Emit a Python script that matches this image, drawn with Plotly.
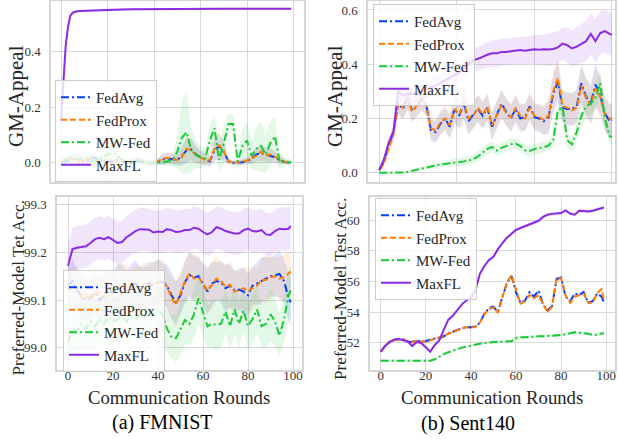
import plotly.graph_objects as go

W, H = 619, 444
FONT = "Liberation Serif"

ROUNDS = list(range(0, 100, 2)) + [99]

# ---------------- (a) FMNIST : GM-Appeal ----------------
TL_FEDAVG = [0.0, 0.005, 0.01, 0.015, 0.01, 0.005, 0.01, 0.02, 0.01, 0.005,
             0.0, 0.005, 0.01, 0.005, 0.0, 0.005, 0.01, 0.005, 0.0, 0.0,
             0.0, 0.005, 0.012, 0.015, 0.012, 0.01, 0.025, 0.045, 0.048, 0.03,
             0.02, 0.012, 0.005, 0.045, 0.06, 0.04, 0.005, 0.0, 0.0, 0.002,
             0.005, 0.015, 0.03, 0.035, 0.03, 0.025, 0.02, 0.01, 0.003, 0.0,
             0.0]
TL_FEDPROX = [0.0, 0.01, 0.015, 0.01, 0.005, 0.01, 0.015, 0.01, 0.005, 0.01,
              0.005, 0.0, 0.005, 0.01, 0.005, 0.0, 0.005, 0.01, 0.005, 0.0,
              0.0, 0.008, 0.015, 0.018, 0.015, 0.01, 0.02, 0.05, 0.045, 0.028,
              0.018, 0.01, 0.008, 0.05, 0.063, 0.042, 0.005, 0.0, 0.002, 0.003,
              0.008, 0.018, 0.025, 0.04, 0.025, 0.03, 0.022, 0.012, 0.004, 0.001,
              0.0]
TL_MWFED = [0.0, 0.01, 0.02, 0.015, 0.01, 0.02, 0.01, 0.005, 0.01, 0.02,
            0.03, 0.035, 0.03, 0.01, 0.005, 0.0, 0.005, 0.01, 0.005, 0.0,
            0.0, 0.0, 0.002, 0.005, 0.01, 0.04, 0.09, 0.11, 0.045, 0.03,
            0.02, 0.015, 0.08, 0.125, 0.01, 0.07, 0.14, 0.14, 0.005, 0.06,
            0.08, 0.025, 0.05, 0.06, 0.03, 0.07, 0.095, 0.005, 0.004, 0.003,
            0.002]
TL_MAXFL_ROUNDS = [0, 1, 2, 3, 4, 5, 6, 8, 10, 14, 20, 30, 40, 50, 60, 70, 80, 90, 99]
TL_MAXFL = [0.15, 0.30, 0.42, 0.49, 0.53, 0.54, 0.544, 0.547, 0.548, 0.549,
            0.551, 0.553, 0.554, 0.554, 0.555, 0.555, 0.555, 0.555, 0.555]

TL_FEDAVG_SD = [0.01, 0.015, 0.02, 0.02, 0.015, 0.01, 0.015, 0.02, 0.02, 0.015,
                0.01, 0.01, 0.015, 0.01, 0.01, 0.01, 0.015, 0.01, 0.01, 0.01,
                0.01, 0.012, 0.02, 0.02, 0.02, 0.02, 0.035, 0.045, 0.04, 0.03,
                0.025, 0.02, 0.02, 0.04, 0.045, 0.035, 0.01, 0.008, 0.008, 0.01,
                0.012, 0.02, 0.025, 0.03, 0.025, 0.025, 0.02, 0.015, 0.01, 0.005,
                0.005]
TL_FEDPROX_SD = [0.012, 0.015, 0.018, 0.02, 0.015, 0.012, 0.015, 0.018, 0.015, 0.015,
                 0.012, 0.01, 0.012, 0.012, 0.01, 0.01, 0.012, 0.012, 0.01, 0.01,
                 0.01, 0.012, 0.02, 0.022, 0.02, 0.02, 0.03, 0.045, 0.04, 0.03,
                 0.025, 0.02, 0.02, 0.04, 0.045, 0.035, 0.01, 0.008, 0.008, 0.01,
                 0.012, 0.02, 0.025, 0.03, 0.025, 0.025, 0.02, 0.015, 0.01, 0.005,
                 0.005]
TL_MWFED_SD = [0.02, 0.025, 0.03, 0.03, 0.025, 0.03, 0.025, 0.02, 0.025, 0.03,
               0.035, 0.04, 0.035, 0.025, 0.02, 0.015, 0.015, 0.02, 0.015, 0.01,
               0.01, 0.01, 0.012, 0.015, 0.02, 0.06, 0.13, 0.15, 0.08, 0.05,
               0.04, 0.03, 0.05, 0.05, 0.04, 0.07, 0.035, 0.035, 0.03, 0.06,
               0.07, 0.05, 0.08, 0.09, 0.07, 0.08, 0.07, 0.03, 0.015, 0.01,
               0.01]
TL_MAXFL_SD = [0.03, 0.03, 0.02, 0.012, 0.008, 0.006, 0.005, 0.004, 0.004, 0.004,
               0.004, 0.004, 0.004, 0.004, 0.004, 0.004, 0.004, 0.004, 0.004]

# ---------------- (b) Sent140 : GM-Appeal ----------------
TR_FEDAVG = [0.01, 0.04, 0.10, 0.15, 0.26, 0.235, 0.275, 0.23, 0.245, 0.27,
             0.25, 0.157, 0.15, 0.18, 0.2, 0.17, 0.235, 0.21, 0.255, 0.19,
             0.215, 0.235, 0.21, 0.24, 0.17, 0.21, 0.255, 0.225, 0.2, 0.235,
             0.2, 0.205, 0.245, 0.205, 0.2, 0.19, 0.205, 0.29, 0.335, 0.24,
             0.235, 0.235, 0.245, 0.33, 0.28, 0.255, 0.325, 0.285, 0.22, 0.19,
             0.195]
TR_FEDPROX = [0.01, 0.035, 0.09, 0.14, 0.25, 0.24, 0.27, 0.225, 0.25, 0.275,
              0.245, 0.165, 0.155, 0.185, 0.2, 0.175, 0.235, 0.215, 0.26, 0.2,
              0.21, 0.24, 0.215, 0.245, 0.175, 0.215, 0.25, 0.22, 0.205, 0.24,
              0.21, 0.2, 0.24, 0.21, 0.205, 0.195, 0.21, 0.3, 0.35, 0.245,
              0.24, 0.23, 0.24, 0.32, 0.275, 0.25, 0.31, 0.28, 0.215, 0.2,
              0.2]
TR_MWFED = [0.0, 0.0, 0.0, 0.0, 0.0, 0.001, 0.003, 0.007, 0.012, 0.017,
            0.021, 0.024, 0.027, 0.03, 0.032, 0.034, 0.036, 0.039, 0.042, 0.045,
            0.05, 0.06, 0.075, 0.088, 0.095, 0.082, 0.092, 0.1, 0.105, 0.108,
            0.098, 0.083, 0.08, 0.088, 0.09, 0.094, 0.1, 0.12, 0.23, 0.24,
            0.12, 0.105, 0.15, 0.21, 0.245, 0.255, 0.275, 0.33, 0.2, 0.135,
            0.13]
TR_MAXFL = [0.01, 0.05, 0.11, 0.15, 0.30, 0.285, 0.29, 0.29, 0.295, 0.30,
            0.31, 0.315, 0.32, 0.33, 0.34, 0.35, 0.36, 0.37, 0.385, 0.40,
            0.415, 0.42, 0.428, 0.435, 0.44, 0.44, 0.445, 0.445, 0.448, 0.45,
            0.452, 0.45, 0.452, 0.455, 0.453, 0.455, 0.454, 0.456, 0.462, 0.476,
            0.47, 0.458, 0.465, 0.475, 0.485, 0.512, 0.485, 0.515, 0.522, 0.512,
            0.508]

TR_FEDAVG_SD = [0.005, 0.01, 0.02, 0.03, 0.04, 0.04, 0.04, 0.04, 0.04, 0.04,
                0.04, 0.04, 0.04, 0.04, 0.04, 0.045, 0.05, 0.05, 0.06, 0.05,
                0.05, 0.05, 0.05, 0.05, 0.05, 0.05, 0.05, 0.05, 0.05, 0.05,
                0.05, 0.05, 0.05, 0.05, 0.05, 0.05, 0.06, 0.07, 0.07, 0.06,
                0.06, 0.06, 0.06, 0.07, 0.07, 0.07, 0.08, 0.07, 0.06, 0.06,
                0.06]
TR_FEDPROX_SD = [0.005, 0.01, 0.02, 0.03, 0.035, 0.04, 0.04, 0.04, 0.04, 0.04,
                 0.04, 0.04, 0.04, 0.045, 0.045, 0.045, 0.05, 0.05, 0.055, 0.05,
                 0.05, 0.05, 0.05, 0.05, 0.05, 0.05, 0.055, 0.05, 0.05, 0.05,
                 0.05, 0.05, 0.05, 0.05, 0.05, 0.055, 0.06, 0.07, 0.07, 0.06,
                 0.06, 0.06, 0.065, 0.07, 0.07, 0.07, 0.075, 0.07, 0.06, 0.06,
                 0.06]
TR_MWFED_SD = [0.002, 0.002, 0.002, 0.002, 0.002, 0.003, 0.004, 0.005, 0.006, 0.007,
               0.008, 0.009, 0.01, 0.011, 0.012, 0.013, 0.014, 0.015, 0.015, 0.016,
               0.017, 0.018, 0.02, 0.02, 0.02, 0.02, 0.02, 0.02, 0.02, 0.02,
               0.02, 0.02, 0.02, 0.02, 0.02, 0.02, 0.02, 0.025, 0.04, 0.04,
               0.03, 0.03, 0.03, 0.04, 0.04, 0.04, 0.04, 0.05, 0.04, 0.03,
               0.03]
TR_MAXFL_SD = [0.005, 0.01, 0.02, 0.02, 0.03, 0.03, 0.03, 0.03, 0.035, 0.035,
               0.035, 0.035, 0.04, 0.04, 0.04, 0.04, 0.04, 0.04, 0.04, 0.04,
               0.04, 0.045, 0.045, 0.045, 0.05, 0.05, 0.05, 0.05, 0.05, 0.05,
               0.05, 0.05, 0.05, 0.055, 0.055, 0.055, 0.06, 0.06, 0.06, 0.06,
               0.065, 0.065, 0.07, 0.07, 0.075, 0.075, 0.08, 0.08, 0.08, 0.08,
               0.08]

# ---------------- (a) FMNIST : Preferred-Model Test Acc. ----------------
BL_FEDAVG = [99.13, 99.14, 99.12, 99.11, 99.10, 99.105, 99.115, 99.10, 99.11, 99.12,
             99.115, 99.125, 99.13, 99.12, 99.13, 99.135, 99.125, 99.13, 99.135, 99.13,
             99.14, 99.138, 99.13, 99.11, 99.095, 99.11, 99.138, 99.153, 99.147, 99.15,
             99.133, 99.118, 99.135, 99.14, 99.137, 99.125, 99.13, 99.12, 99.122, 99.118,
             99.11, 99.13, 99.135, 99.14, 99.146, 99.15, 99.152, 99.155, 99.14, 99.105,
             99.095]
BL_FEDPROX = [99.12, 99.13, 99.125, 99.105, 99.11, 99.1, 99.12, 99.11, 99.105, 99.125,
              99.12, 99.13, 99.125, 99.13, 99.125, 99.13, 99.12, 99.135, 99.13, 99.135,
              99.135, 99.14, 99.128, 99.105, 99.09, 99.115, 99.14, 99.156, 99.145, 99.148,
              99.135, 99.12, 99.132, 99.145, 99.14, 99.128, 99.132, 99.118, 99.12, 99.125,
              99.118, 99.125, 99.13, 99.142, 99.142, 99.148, 99.15, 99.145, 99.148, 99.155,
              99.16]
BL_MWFED = [99.01, 99.04, 99.035, 99.05, 99.04, 99.055, 99.045, 99.06, 99.05, 99.065,
            99.055, 99.06, 99.07, 99.055, 99.065, 99.06, 99.07, 99.065, 99.075, 99.07,
            99.08, 99.07, 99.04, 99.022, 99.02, 99.04, 99.058, 99.05, 99.07, 99.104,
            99.076, 99.045, 99.05, 99.048, 99.05, 99.076, 99.045, 99.08, 99.05, 99.078,
            99.045, 99.06, 99.08, 99.045, 99.05, 99.07, 99.055, 99.025, 99.06, 99.11,
            99.12]
BL_MAXFL = [99.172, 99.207, 99.21, 99.211, 99.213, 99.22, 99.228, 99.231, 99.228, 99.232,
            99.226, 99.22, 99.222, 99.232, 99.238, 99.245, 99.249, 99.248, 99.248, 99.242,
            99.244, 99.243, 99.249, 99.247, 99.243, 99.244, 99.247, 99.247, 99.252, 99.25,
            99.243, 99.238, 99.243, 99.253, 99.25, 99.245, 99.243, 99.24, 99.24, 99.247,
            99.25, 99.245, 99.244, 99.247, 99.238, 99.237, 99.245, 99.25, 99.249, 99.25,
            99.256]

BL_FEDAVG_SD = [0.04, 0.045, 0.045, 0.05, 0.045, 0.04, 0.045, 0.05, 0.045, 0.04,
                0.045, 0.05, 0.045, 0.04, 0.045, 0.05, 0.045, 0.04, 0.045, 0.05,
                0.045, 0.04, 0.045, 0.05, 0.045, 0.04, 0.045, 0.05, 0.045, 0.04,
                0.045, 0.05, 0.045, 0.04, 0.045, 0.05, 0.045, 0.04, 0.045, 0.05,
                0.045, 0.04, 0.045, 0.05, 0.045, 0.04, 0.045, 0.05, 0.045, 0.05,
                0.05]
BL_FEDPROX_SD = [0.045, 0.04, 0.045, 0.05, 0.045, 0.04, 0.045, 0.05, 0.045, 0.04,
                 0.04, 0.045, 0.05, 0.045, 0.04, 0.045, 0.05, 0.045, 0.04, 0.045,
                 0.05, 0.045, 0.04, 0.045, 0.05, 0.045, 0.04, 0.045, 0.05, 0.045,
                 0.04, 0.045, 0.05, 0.045, 0.04, 0.045, 0.05, 0.045, 0.04, 0.045,
                 0.05, 0.045, 0.04, 0.045, 0.05, 0.045, 0.04, 0.045, 0.05, 0.045,
                 0.045]
BL_MWFED_SD = [0.05, 0.055, 0.05, 0.045, 0.05, 0.055, 0.05, 0.045, 0.05, 0.055,
               0.05, 0.045, 0.05, 0.055, 0.05, 0.045, 0.05, 0.055, 0.05, 0.045,
               0.05, 0.055, 0.05, 0.045, 0.05, 0.055, 0.05, 0.045, 0.05, 0.055,
               0.05, 0.045, 0.05, 0.055, 0.05, 0.045, 0.05, 0.055, 0.05, 0.045,
               0.05, 0.055, 0.05, 0.045, 0.05, 0.055, 0.05, 0.045, 0.05, 0.055,
               0.05]
BL_MAXFL_SD = [0.045, 0.045, 0.045, 0.045, 0.045, 0.045, 0.045, 0.045, 0.045, 0.045,
               0.045, 0.045, 0.045, 0.045, 0.045, 0.045, 0.045, 0.045, 0.045, 0.045,
               0.045, 0.045, 0.045, 0.045, 0.045, 0.045, 0.045, 0.045, 0.045, 0.045,
               0.045, 0.045, 0.045, 0.045, 0.045, 0.045, 0.045, 0.045, 0.045, 0.045,
               0.045, 0.045, 0.045, 0.045, 0.045, 0.045, 0.045, 0.045, 0.045, 0.045,
               0.045]

# ---------------- (b) Sent140 : Preferred-Model Test Acc. ----------------
BR_FEDAVG = [51.41, 51.8, 52.05, 52.18, 52.25, 52.22, 52.07, 52.05, 52.15, 52.05,
             52.1, 52.2, 52.28, 52.3, 52.42, 52.6, 52.72, 52.85, 52.95, 53.02,
             53.0, 53.05, 53.3, 53.9, 54.25, 54.35, 54.0, 55.0, 55.9, 56.35,
             55.3, 54.6, 54.75, 55.3, 55.0, 55.4, 54.5, 54.1, 54.4, 56.15,
             56.25, 55.0, 54.7, 55.2, 55.1, 55.3, 54.6, 54.7, 55.2, 55.0,
             54.6]
BR_FEDPROX = [51.41, 51.82, 52.07, 52.16, 52.22, 52.2, 52.1, 52.02, 52.12, 52.08,
              52.05, 52.15, 52.25, 52.3, 52.45, 52.58, 52.7, 52.85, 52.93, 53.0,
              53.0, 53.02, 53.32, 53.85, 54.2, 54.3, 53.95, 55.0, 55.95, 56.4,
              55.4, 54.55, 54.7, 55.1, 54.9, 55.1, 54.5, 54.0, 54.35, 56.2,
              56.2, 55.1, 54.6, 55.0, 55.1, 55.2, 54.6, 54.6, 55.25, 55.5,
              54.7]
BR_MWFED = [50.82, 50.82, 50.82, 50.82, 50.82, 50.82, 50.82, 50.82, 50.82, 50.82,
            50.82, 50.83, 50.92, 51.1, 51.25, 51.38, 51.5, 51.58, 51.68, 51.75,
            51.82, 51.88, 51.93, 51.98, 52.02, 52.05, 52.05, 52.07, 52.05, 52.1,
            52.3, 52.35, 52.35, 52.38, 52.4, 52.42, 52.42, 52.43, 52.45, 52.47,
            52.5, 52.55, 52.62, 52.68, 52.65, 52.63, 52.58, 52.5, 52.52, 52.6,
            52.62]
BR_MAXFL = [51.41, 51.78, 52.05, 52.2, 52.24, 52.18, 52.08, 51.78, 52.05, 51.98,
            51.7, 51.42, 51.85, 52.15, 52.85, 53.5, 53.75, 54.15, 54.5, 54.75,
            54.95, 55.4, 56.5, 57.0, 57.4, 57.6, 58.1, 58.5, 58.85, 59.1,
            59.35, 59.48, 59.6, 59.72, 59.82, 59.95, 60.2, 60.35, 60.4, 60.42,
            60.45, 60.63, 60.42, 60.35, 60.6, 60.58, 60.55, 60.6, 60.7, 60.78,
            60.82]

BR_LINE_SD = [0.08, 0.08, 0.08, 0.08, 0.08, 0.08, 0.08, 0.08, 0.08, 0.08,
              0.08, 0.08, 0.08, 0.08, 0.08, 0.08, 0.08, 0.08, 0.08, 0.08,
              0.08, 0.08, 0.08, 0.08, 0.08, 0.1, 0.1, 0.1, 0.12, 0.12,
              0.12, 0.12, 0.1, 0.1, 0.1, 0.1, 0.1, 0.1, 0.1, 0.12,
              0.12, 0.1, 0.1, 0.1, 0.1, 0.1, 0.1, 0.1, 0.1, 0.1,
              0.1]
BR_MAXFL_SD = [0.08, 0.08, 0.08, 0.08, 0.08, 0.08, 0.08, 0.08, 0.08, 0.08,
               0.08, 0.08, 0.08, 0.08, 0.1, 0.1, 0.1, 0.1, 0.1, 0.1,
               0.1, 0.1, 0.12, 0.12, 0.12, 0.12, 0.12, 0.12, 0.12, 0.12,
               0.12, 0.12, 0.12, 0.12, 0.12, 0.12, 0.12, 0.12, 0.12, 0.12,
               0.12, 0.12, 0.12, 0.12, 0.12, 0.12, 0.12, 0.12, 0.12, 0.12,
               0.12]

NAMES = ["FedAvg", "FedProx", "MW-Fed", "MaxFL"]
COLORS = ["#023eff", "#ff7c00", "#1ac938", "#8b2be2"]
FILLS = ["rgba(2,62,255,0.12)", "rgba(255,124,0,0.12)",
         "rgba(26,201,56,0.12)", "rgba(139,43,226,0.12)"]
DASHES = ["8px,3px,2px,3px", "6px,3px", "8px,3px,2px,3px", "solid"]

PANELS = [
    ("x", "y", "legend",
     [(ROUNDS, TL_FEDAVG, TL_FEDAVG_SD), (ROUNDS, TL_FEDPROX, TL_FEDPROX_SD),
      (ROUNDS, TL_MWFED, TL_MWFED_SD), (TL_MAXFL_ROUNDS, TL_MAXFL, TL_MAXFL_SD)]),
    ("x2", "y2", "legend2",
     [(ROUNDS, TR_FEDAVG, TR_FEDAVG_SD), (ROUNDS, TR_FEDPROX, TR_FEDPROX_SD),
      (ROUNDS, TR_MWFED, TR_MWFED_SD), (ROUNDS, TR_MAXFL, TR_MAXFL_SD)]),
    ("x3", "y3", "legend3",
     [(ROUNDS, BL_FEDAVG, BL_FEDAVG_SD), (ROUNDS, BL_FEDPROX, BL_FEDPROX_SD),
      (ROUNDS, BL_MWFED, BL_MWFED_SD), (ROUNDS, BL_MAXFL, BL_MAXFL_SD)]),
    ("x4", "y4", "legend4",
     [(ROUNDS, BR_FEDAVG, BR_LINE_SD), (ROUNDS, BR_FEDPROX, BR_LINE_SD),
      (ROUNDS, BR_MWFED, BR_LINE_SD), (ROUNDS, BR_MAXFL, BR_MAXFL_SD)]),
]

fig = go.Figure()

for xa, ya, leg, series in PANELS:
    for i, (xs, mean, sd) in enumerate(series):
        upper = [m + s for m, s in zip(mean, sd)]
        lower = [m - s for m, s in zip(mean, sd)]
        fig.add_trace(go.Scatter(
            x=list(xs) + list(xs)[::-1], y=upper + lower[::-1],
            fill="toself", fillcolor=FILLS[i], line=dict(width=0),
            mode="lines", hoverinfo="skip", showlegend=False,
            xaxis=xa, yaxis=ya))
    for i, (xs, mean, sd) in enumerate(series):
        fig.add_trace(go.Scatter(
            x=xs, y=mean, mode="lines", name=NAMES[i],
            line=dict(color=COLORS[i], width=2, dash=DASHES[i]),
            legend=leg, xaxis=xa, yaxis=ya))


def px_x(p):
    return p / W


def px_y(p):
    return 1 - p / H


def axis_style():
    return dict(showgrid=True, gridcolor="#d9d9d9", gridwidth=1,
                showline=True, mirror=True, linecolor="#d6d6d6", linewidth=1.5,
                zeroline=False, ticks="",
                tickfont=dict(family=FONT, size=13, color="#333333"))


fig.update_layout(
    width=W, height=H, autosize=False,
    margin=dict(l=0, r=0, t=0, b=0, pad=0),
    paper_bgcolor="white", plot_bgcolor="white",
    font=dict(family=FONT, color="#262626"),
    xaxis=dict(domain=[px_x(51), px_x(304)], range=[-4.3, 104.5],
               tickvals=[0, 20, 40, 60, 80, 100], showticklabels=False,
               anchor="y", **axis_style()),
    yaxis=dict(domain=[px_y(182), px_y(1)], range=[-0.0695, 0.583],
               tickvals=[0.0, 0.2, 0.4], tickformat=".1f",
               ticklabelstandoff=6, anchor="x", **axis_style()),
    xaxis2=dict(domain=[px_x(368), px_x(615)], range=[-4.8, 100.3],
                tickvals=[0, 33, 66, 99], showticklabels=False,
                anchor="y2", **axis_style()),
    yaxis2=dict(domain=[px_y(182), px_y(1)], range=[-0.034, 0.633],
                tickvals=[0.0, 0.2, 0.4, 0.6], tickformat=".1f",
                ticklabelstandoff=6, anchor="x2", **axis_style()),
    xaxis3=dict(domain=[px_x(57), px_x(302)], range=[-4.89, 104.0],
                tickvals=[0, 20, 40, 60, 80, 100], ticklabelstandoff=-7,
                anchor="y3", **axis_style()),
    yaxis3=dict(domain=[px_y(370), px_y(197)], range=[98.953, 99.3166],
                tickvals=[99.0, 99.1, 99.2, 99.3], tickformat=".1f",
                ticklabelstandoff=6, anchor="x3", **axis_style()),
    xaxis4=dict(domain=[px_x(370), px_x(615)], range=[-4.73, 103.9],
                tickvals=[0, 20, 40, 60, 80, 100], ticklabelstandoff=-7,
                anchor="y4", **axis_style()),
    yaxis4=dict(domain=[px_y(370), px_y(197)], range=[50.22, 61.5],
                tickvals=[52, 54, 56, 58, 60],
                ticklabelstandoff=6, anchor="x4", **axis_style()),
)


def leg_style(x, y):
    return dict(x=x, y=y, bgcolor="rgba(255,255,255,0.8)", bordercolor="#cccccc",
                borderwidth=1, font=dict(family=FONT, size=15, color="#262626"),
                xanchor="left", yanchor="top", tracegroupgap=0)


fig.update_layout(
    legend=leg_style(px_x(55), px_y(80)),
    legend2=leg_style(px_x(373), px_y(4)),
    legend3=leg_style(px_x(63), px_y(270)),
    legend4=leg_style(px_x(375), px_y(198)),
)

ann = []


def add_text(txt, x, y, size, angle=0, color="#262626"):
    ann.append(dict(text=txt, x=px_x(x), y=px_y(y), xref="paper", yref="paper",
                    showarrow=False, xanchor="center", yanchor="middle",
                    textangle=angle, font=dict(family=FONT, size=size, color=color)))


add_text("GM-Appeal", 16, 96, 21, -90)
add_text("GM-Appeal", 335, 96, 21, -90)
add_text("Preferred-Model Tet Acc.", 17.5, 288, 17.2, -90)
add_text("Preferred-Model Test Acc.", 340, 289, 17.2, -90)
add_text("Communication Rounds", 179, 397, 18.7)
add_text("Communication Rounds", 492, 397, 18.7)
add_text("(a) FMNIST", 162, 422, 20, 0, "black")
add_text("(b) Sent140", 468, 423, 20, 0, "black")
fig.update_layout(annotations=ann)

fig.write_html(
    "out.html",
    config={"displayModeBar": False},
    post_script="document.body.style.margin='0';document.body.style.padding='0';"
                "document.body.style.overflow='hidden';",
)
